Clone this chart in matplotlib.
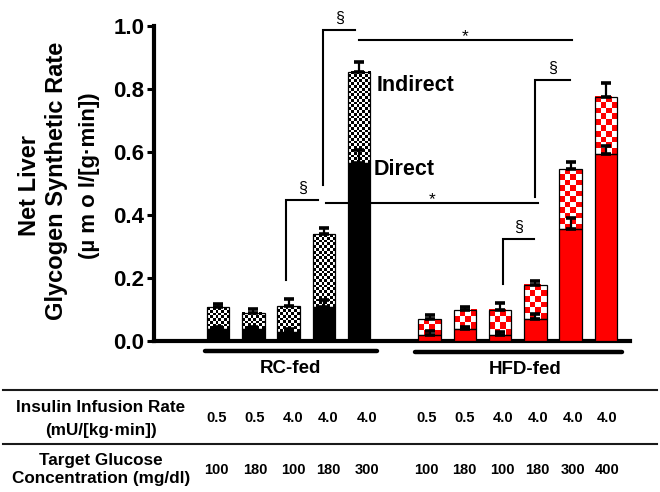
import numpy as np
import matplotlib
matplotlib.use("Agg")
import matplotlib.pyplot as plt
from matplotlib.colors import ListedColormap
from matplotlib.lines import Line2D
from matplotlib import font_manager

# ---------------- data ----------------
groups = ["RC-fed", "HFD-fed"]
rc_direct = [0.038, 0.037, 0.030, 0.109, 0.564]
rc_direct_err = [0.007, 0.006, 0.008, 0.021, 0.042]
rc_total = [0.107, 0.090, 0.111, 0.339, 0.855]
rc_total_err = [0.011, 0.013, 0.021, 0.019, 0.032]

hfd_direct = [0.019, 0.037, 0.019, 0.069, 0.357, 0.594]
hfd_direct_err = [0.013, 0.008, 0.008, 0.016, 0.033, 0.025]
hfd_total = [0.069, 0.100, 0.100, 0.178, 0.547, 0.776]
hfd_total_err = [0.014, 0.007, 0.022, 0.013, 0.021, 0.044]

rc_insulin = ["0.5", "0.5", "4.0", "4.0", "4.0"]
rc_glucose = ["100", "180", "100", "180", "300"]
hfd_insulin = ["0.5", "0.5", "4.0", "4.0", "4.0", "4.0"]
hfd_glucose = ["100", "180", "100", "180", "300", "400"]

yticks = [0.0, 0.2, 0.4, 0.6, 0.8, 1.0]

# ---------------- fonts ----------------
names = {f.name for f in font_manager.fontManager.ttflist}
MAIN = ["Liberation Sans", "DejaVu Sans"]
if "Liberation Sans Narrow" in names:
    NARROW, NARROW_SIZE = ["Liberation Sans Narrow", "Liberation Sans"], 12
else:
    NARROW, NARROW_SIZE = MAIN, 10.5
plt.rcParams["font.family"] = MAIN

W, H = 660, 492
fig = plt.figure(figsize=(W / 100, H / 100), dpi=100)

def fx(px):
    return px / W

def fy(py):
    return 1 - py / H

ax_l, ax_r, ax_b, ax_t = 154, 630, 341, 26
ax = fig.add_axes([fx(ax_l), (H - ax_b) / H, (ax_r - ax_l) / W, (ax_b - ax_t) / H])
x0_px, unit_px = 218, 35.27
xlim = ((ax_l - x0_px) / unit_px, (ax_r - x0_px) / unit_px)
px_per_x = unit_px
px_per_y = (ax_b - ax_t) / 1.0

rc_pos = np.arange(len(rc_total))
hfd_pos = np.arange(len(hfd_total)) + len(rc_total) + 1
bw = 0.64

def checker(patch, sq_px, color):
    x0, y0 = patch.get_x(), patch.get_y()
    w, h = patch.get_width(), patch.get_height()
    nc = max(1, int(round(w * px_per_x / sq_px)))
    nr = max(1, int(round(h * px_per_y / sq_px)))
    arr = np.add.outer(np.arange(nr), np.arange(nc)) % 2
    ax.imshow(arr, extent=(x0, x0 + w, y0, y0 + h), origin="lower",
              cmap=ListedColormap(["white", color]), vmin=0, vmax=1,
              interpolation="nearest", aspect="auto", zorder=2)

def draw_group(pos, direct, direct_err, total, total_err, color, sq):
    direct = np.array(direct)
    total = np.array(total)
    ax.bar(pos, direct, bw, color=color, edgecolor="black", linewidth=0.9, zorder=3)
    ind = ax.bar(pos, total - direct, bw, bottom=direct, facecolor="none",
                 edgecolor="black", linewidth=0.9, zorder=3)
    for p in ind.patches:
        checker(p, sq, color)
    ax.errorbar(pos, direct, yerr=[np.zeros_like(direct), direct_err], fmt="none",
                ecolor="black", elinewidth=1.6, capsize=3.8, capthick=2.6, zorder=4)
    ax.errorbar(pos, total, yerr=[np.zeros_like(total), total_err], fmt="none",
                ecolor="black", elinewidth=1.6, capsize=3.8, capthick=2.6, zorder=4)

draw_group(rc_pos, rc_direct, rc_direct_err, rc_total, rc_total_err, "black", 2.8)
draw_group(hfd_pos, hfd_direct, hfd_direct_err, hfd_total, hfd_total_err, "#ff0000", 5.7)

ax.set_xlim(*xlim)
ax.set_ylim(0, 1.0)
ax.set_aspect("auto")
for s in ["top", "right"]:
    ax.spines[s].set_visible(False)
for s in ["left", "bottom"]:
    ax.spines[s].set_linewidth(3)
ax.set_xticks([])
ax.set_yticks(yticks)
ax.set_yticklabels([f"{t:.1f}" for t in yticks], fontsize=16, fontweight="bold")
ax.tick_params(axis="y", length=5, width=2.2, direction="out", pad=2)

# significance annotations (in bar-position / value units)
lw_a = 1.5
def bracket(xv, xe, ytop, ybot):
    ax.plot([xv, xv, xe], [ybot, ytop, ytop], color="black", lw=lw_a,
            solid_joinstyle="miter", clip_on=False)
    ax.text((xv + xe) / 2, ytop + 0.022, "§", ha="center", va="baseline",
            fontsize=11.5, clip_on=False)

def star_line(xa, xb, y):
    ax.plot([xa, xb], [y, y], color="black", lw=lw_a, clip_on=False)
    ax.text((xa + xb) / 2, y - 0.004, "*", ha="center", va="baseline",
            fontsize=12.5, clip_on=False)

bracket(rc_pos[3] - 0.015, rc_pos[4] - 0.12, 0.987, 0.495)
bracket(rc_pos[2] - 0.07, rc_pos[3] - 0.165, 0.448, 0.194)
bracket(hfd_pos[3], hfd_pos[4] - 0.03, 0.829, 0.457)
bracket(hfd_pos[2] + 0.07, hfd_pos[3] - 0.04, 0.325, 0.181)
star_line(rc_pos[4], hfd_pos[4] + 0.03, 0.956)
star_line(rc_pos[3] + 0.054, hfd_pos[3] + 0.08, 0.437)

ax.text(rc_pos[4] + 0.50, 0.81, "Indirect", ha="left", va="center",
        fontsize=15.5, fontweight="bold")
ax.text(rc_pos[4] + 0.42, 0.543, "Direct", ha="left", va="center",
        fontsize=15.5, fontweight="bold")

# group underlines and labels
ax.plot([rc_pos[0] - 0.37, rc_pos[-1] + 0.5], [-0.032, -0.032], color="black",
        lw=3.2, solid_capstyle="round", clip_on=False)
ax.plot([hfd_pos[0] - 0.415, hfd_pos[-1] + 0.45], [-0.034, -0.034], color="black",
        lw=3.2, solid_capstyle="round", clip_on=False)
ax.text(rc_pos.mean() + 0.064, -0.087, groups[0], ha="center", va="center",
        fontsize=13.5, fontweight="bold", clip_on=False)
ax.text(hfd_pos.mean() + 0.22, -0.089, groups[1], ha="center", va="center",
        fontsize=13.5, fontweight="bold", clip_on=False)

# y label (three lines)
fig.text(fx(30), fy(186), "Net Liver", rotation=90, ha="center", va="center",
         fontsize=17, fontweight="bold")
fig.text(fx(56), fy(181), "Glycogen Synthetic Rate", rotation=90, ha="center",
         va="center", fontsize=17, fontweight="bold")
fig.text(fx(89), fy(176), "(µ m o l/[g·min])", rotation=90, ha="center",
         va="center", fontsize=16, fontweight="bold")

# ---------------- table ----------------
for ly in (390, 444):
    fig.add_artist(Line2D([fx(3), fx(657)], [fy(ly), fy(ly)], color="#1a1a1a", lw=1.5))

hdr_kw = dict(ha="center", va="center", fontsize=12.3, fontweight="bold")
fig.text(fx(101), fy(408), "Insulin Infusion Rate", **hdr_kw)
fig.text(fx(101), fy(430), "(mU/[kg·min])", **hdr_kw)
fig.text(fx(101), fy(461), "Target Glucose", **hdr_kw)
fig.text(fx(101), fy(479), "Concentration (mg/dl)", **hdr_kw)

rc_cols = [216.7, 255, 293.3, 328.3, 366.7]
hfd_cols = [426.5, 464.3, 502.8, 537.8, 572.7, 606.8]
val_kw = dict(ha="center", va="center", fontsize=NARROW_SIZE, fontweight="bold",
              family=NARROW)
for cx, ins, glu in zip(rc_cols + hfd_cols, rc_insulin + hfd_insulin,
                        rc_glucose + hfd_glucose):
    fig.text(fx(cx), fy(418), ins, **val_kw)
    fig.text(fx(cx), fy(470), glu, **val_kw)

fig.savefig("out.png", dpi=100)
